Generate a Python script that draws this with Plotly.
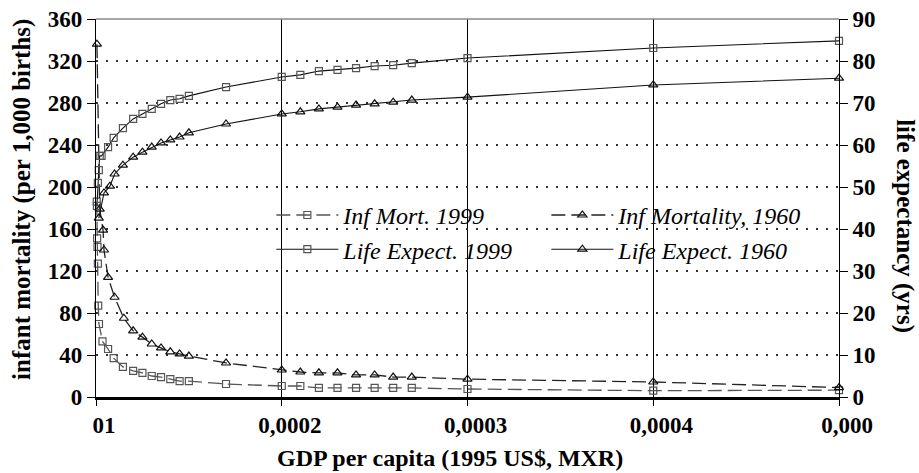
import plotly.graph_objects as go

# ---- data ----
x_tick_vals = [0, 10000, 20000, 30000, 40000]
x_tick_text = ["01", "0,0002", "0,0003", "0,0004", "0,000"]

im1999_x = [40, 60, 80, 100, 120, 160, 350, 650, 950, 1450, 2000, 2500, 3000, 3500, 4000,
            4500, 5000, 7000, 10000, 11000, 12000, 13000, 14000, 15000, 16000, 17000,
            20000, 30000, 40000]
im1999_y = [186, 151, 143, 127, 87, 69.5, 53, 45.7, 37, 28.6, 24.8, 22.9, 20, 19, 17,
            15.2, 15.2, 12.4, 10.5, 10.5, 8.6, 8.6, 8.6, 8.6, 8.6, 8.6, 7.6, 6, 6.5]

im1960_x = [50, 200, 380, 430, 650, 1000, 1500, 2000, 2500, 3000, 3500, 4000, 4500, 5000,
            7000, 10000, 11000, 12000, 13000, 14000, 15000, 16000, 17000, 20000, 30000, 40000]
im1960_y = [336, 179, 159, 140, 114, 95, 75, 63, 57, 50.5, 46.7, 43, 41, 39,
            32.4, 25.7, 23.8, 23, 23, 21, 21, 19, 19, 17, 14.3, 9]

le1999_x = [50, 100, 150, 200, 300, 650, 950, 1450, 2000, 2500, 3000, 3500, 4000, 4500,
            5000, 7000, 10000, 11000, 12000, 13000, 14000, 15000, 16000, 17000, 20000,
            30000, 40000]
le1999_y = [45.5, 51, 54, 57.4, 57.4, 59.5, 61.7, 64.0, 66.2, 67.4, 68.6, 69.8, 70.7, 71,
            71.7, 73.8, 76.2, 76.7, 77.6, 77.9, 78.3, 78.8, 79, 79.5, 80.7, 83.1, 84.8]

le1960_x = [150, 430, 750, 1000, 1450, 2000, 2500, 3000, 3500, 4000, 4500, 5000, 7000,
            10000, 11000, 12000, 13000, 14000, 15000, 16000, 17000, 20000, 30000, 40000]
le1960_y = [42.6, 48.6, 50.2, 53.1, 55.2, 57.1, 58.3, 59.5, 60.5, 61.2, 61.9, 62.9, 65,
            67.4, 67.9, 68.6, 69, 69.5, 69.8, 70.2, 70.7, 71.4, 74.3, 75.9]

FONT = "Liberation Serif, Times New Roman, serif"
DASH = "14px,6px"

fig = go.Figure()
fig.add_trace(go.Scatter(
    x=im1999_x, y=im1999_y, name="Inf Mort. 1999", mode="lines+markers",
    line=dict(color="#555555", width=1.3, dash=DASH),
    marker=dict(symbol="square-open", size=7, color="#555555", line=dict(width=1.2)),
    cliponaxis=False))
fig.add_trace(go.Scatter(
    x=im1960_x, y=im1960_y, name="Inf Mortality, 1960", mode="lines+markers",
    line=dict(color="#222222", width=1.3, dash=DASH),
    marker=dict(symbol="triangle-up-open", size=8, color="#111111", line=dict(width=1.2)),
    cliponaxis=False))
fig.add_trace(go.Scatter(
    x=le1999_x, y=le1999_y, name="Life Expect. 1999", mode="lines+markers", yaxis="y2",
    line=dict(color="#111111", width=1.1),
    marker=dict(symbol="square-open", size=7, color="#555555", line=dict(width=1.2)),
    cliponaxis=False))
fig.add_trace(go.Scatter(
    x=le1960_x, y=le1960_y, name="Life Expect. 1960", mode="lines+markers", yaxis="y2",
    line=dict(color="#111111", width=1.1),
    marker=dict(symbol="triangle-up-open", size=8, color="#111111", line=dict(width=1.2)),
    cliponaxis=False))

tickfont = dict(family=FONT, size=23, color="black", weight="bold")

fig.update_layout(
    width=919, height=473,
    margin=dict(l=96, r=80, t=19, b=76, autoexpand=False),
    paper_bgcolor="white", plot_bgcolor="white",
    font=dict(family=FONT, color="black"),
    xaxis=dict(range=[0, 40000], tickvals=x_tick_vals, ticktext=x_tick_text,
               showgrid=True, gridcolor="black", gridwidth=1,
               showline=True, linecolor="black", linewidth=2.5,
               ticks="outside", ticklen=6, tickcolor="black", tickwidth=1,
               tickfont=tickfont, ticklabelshift=8, zeroline=False, automargin=False),
    yaxis=dict(range=[0, 360], dtick=40, showgrid=True, gridcolor="#333333",
               gridwidth=2, griddash="2px,8px",
               showline=True, linecolor="black", linewidth=1.3,
               ticks="outside", ticklen=8, tickcolor="black", tickwidth=1,
               tickfont=tickfont, zeroline=False, automargin=False),
    yaxis2=dict(range=[0, 90], dtick=10, overlaying="y", side="right", showgrid=False,
                showline=True, linecolor="black", linewidth=1,
                ticks="outside", ticklen=8, tickcolor="black", tickwidth=1,
                tickfont=tickfont, zeroline=False, automargin=False),
    legend=dict(orientation="h", x=0.236, y=0.54, xanchor="left", yanchor="top",
                bgcolor="rgba(0,0,0,0)", entrywidth=198, entrywidthmode="pixels",
                itemwidth=62,
                font=dict(family=FONT, size=24, style="italic", color="black"),
                tracegroupgap=0),
    showlegend=True,
    shapes=[dict(type="line", xref="paper", yref="paper", x0=0, x1=1, y0=1, y1=1,
                 line=dict(color="#888888", width=1.5))],
    annotations=[
        dict(text="infant mortality (per 1,000 births)", xref="paper", yref="paper",
             x=-0.0996, y=0.524, xanchor="center", yanchor="middle", textangle=-90,
             showarrow=False, font=dict(family=FONT, size=25, weight="bold", color="black")),
        dict(text="life expectancy (yrs)", xref="paper", yref="paper",
             x=1.0888, y=0.452, xanchor="center", yanchor="middle", textangle=90,
             showarrow=False, font=dict(family=FONT, size=25, weight="bold", color="black")),
        dict(text="GDP per capita (1995 US$, MXR)", xref="paper", yref="paper",
             x=0.4765, y=-0.161, xanchor="center", yanchor="middle",
             showarrow=False, font=dict(family=FONT, size=24, weight="bold", color="black")),
    ],
)

fig.write_html("out.html", config={"displayModeBar": False},
               post_script="document.body.style.margin='0';document.body.style.overflow='hidden';")
